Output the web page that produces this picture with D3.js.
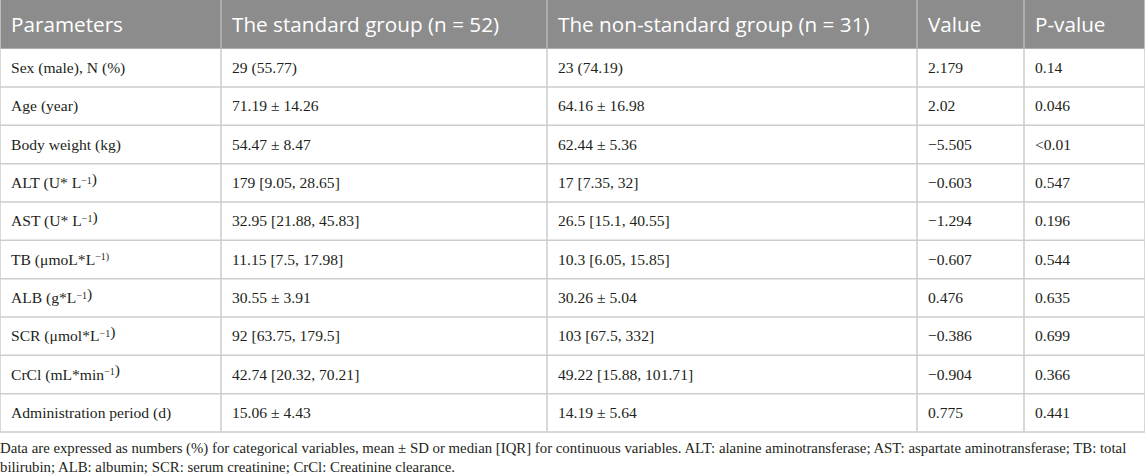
<!DOCTYPE html>
<html>
<head>
<meta charset="utf-8">
<script src="https://cdn.jsdelivr.net/npm/d3@7"></script>
<style>
  body { margin: 0; background: #fff; }
  svg { display: block; }
</style>
</head>
<body>
<div class="table-block"></div>
<script>
// table content
const headers = ['Parameters', 'The standard group (n = 52)', 'The non-standard group (n = 31)', 'Value', 'P-value'];

// ^{...} marks superscript
const parameters = [
    'Sex (male), N (%)',
    'Age (year)',
    'Body weight (kg)',
    'ALT (U* L^{−1})',
    'AST (U* L^{−1})',
    'TB (μmoL*L^{−1)}',
    'ALB (g*L^{−1})',
    'SCR (μmol*L^{−1})',
    'CrCl (mL*min^{−1})',
    'Administration period (d)'
];
const standardGroup = [
    '29 (55.77)', '71.19 ± 14.26', '54.47 ± 8.47', '179 [9.05, 28.65]', '32.95 [21.88, 45.83]',
    '11.15 [7.5, 17.98]', '30.55 ± 3.91', '92 [63.75, 179.5]', '42.74 [20.32, 70.21]', '15.06 ± 4.43'
];
const nonStandardGroup = [
    '23 (74.19)', '64.16 ± 16.98', '62.44 ± 5.36', '17 [7.35, 32]', '26.5 [15.1, 40.55]',
    '10.3 [6.05, 15.85]', '30.26 ± 5.04', '103 [67.5, 332]', '49.22 [15.88, 101.71]', '14.19 ± 5.64'
];
const statValues = ['2.179', '2.02', '−5.505', '−0.603', '−1.294', '−0.607', '0.476', '−0.386', '−0.904', '0.775'];
const pValues = ['0.14', '0.046', '<0.01', '0.547', '0.196', '0.544', '0.635', '0.699', '0.366', '0.441'];

const footnote = [
    'Data are expressed as numbers (%) for categorical variables, mean ± SD or median [IQR] for continuous variables. ALT: alanine aminotransferase; AST: aspartate aminotransferase; TB: total',
    'bilirubin; ALB: albumin; SCR: serum creatinine; CrCl: Creatinine clearance.'
];

let width = 1145, height = 476;
let headerHeight = 48.7, tableBottom = 432;
let colEdges = [0, 221, 547, 917, 1024, 1145];

let svg = d3.select('.table-block')
    .append('svg')
    .attr('width', width)
    .attr('height', height);

let rows = parameters.map((p, i) => [p, standardGroup[i], nonStandardGroup[i], statValues[i], pValues[i]]);

let y = d3.scaleBand()
    .domain(d3.range(rows.length))
    .range([headerHeight, tableBottom]);

let x = d3.scaleOrdinal()
    .domain(d3.range(headers.length))
    .range(colEdges.slice(0, -1));

// header
svg.append('rect')
    .attr('x', 0).attr('y', 0)
    .attr('width', width).attr('height', headerHeight)
    .attr('fill', '#8c8c8c');

svg.append('g')
    .selectAll('text')
    .data(headers)
    .enter()
    .append('text')
    .attr('x', (d, i) => x(i) + 11)
    .attr('y', headerHeight / 2)
    .attr('dy', '0.35em')
    .style('font-family', 'Open Sans')
    .style('font-size', '20.7px')
    .attr('fill', '#fff')
    .text(d => d);

// grid lines
svg.append('g')
    .selectAll('line')
    .data(d3.range(rows.length))
    .enter()
    .append('line')
    .attr('x1', 0).attr('x2', width)
    .attr('y1', d => y(d) + y.bandwidth())
    .attr('y2', d => y(d) + y.bandwidth())
    .attr('stroke', '#cdcdcd')
    .attr('stroke-width', 1.5);

svg.append('g')
    .selectAll('line')
    .data(colEdges)
    .enter()
    .append('line')
    .attr('x1', d => d).attr('x2', d => d)
    .attr('y1', 0).attr('y2', tableBottom)
    .attr('stroke', '#cdcdcd')
    .attr('stroke-width', 1.5);

// header separators slightly lighter
svg.append('g')
    .selectAll('line')
    .data(colEdges.slice(1, -1))
    .enter()
    .append('line')
    .attr('x1', d => d).attr('x2', d => d)
    .attr('y1', 0).attr('y2', headerHeight)
    .attr('stroke', '#a9a9a9')
    .attr('stroke-width', 1.5);

// body cells
let addRich = (sel, str) => {
    let parts = str.split(/(\^\{[^}]*\})/).filter(s => s.length);
    parts.forEach(part => {
        if (part.startsWith('^{')) {
            sel.append('tspan')
                .attr('dy', '-0.45em')
                .style('font-size', '10px')
                .text(part.slice(2, -1));
            sel.append('tspan').attr('dy', '0.45em').text('');
        } else {
            sel.append('tspan').text(part);
        }
    });
};

let rowGroups = svg.append('g')
    .selectAll('g')
    .data(rows)
    .enter()
    .append('g')
    .attr('transform', (d, i) => 'translate(0,' + (y(i) + y.bandwidth() / 2) + ')');

rowGroups.selectAll('text')
    .data(d => d)
    .enter()
    .append('text')
    .attr('x', (d, i) => x(i) + 11)
    .attr('y', 0)
    .attr('dy', '0.33em')
    .style('font-family', 'Liberation Serif')
    .style('font-size', '15.6px')
    .attr('fill', '#231f20')
    .each(function(d) { addRich(d3.select(this), d); });

// footnote
svg.append('g')
    .selectAll('text')
    .data(footnote)
    .enter()
    .append('text')
    .attr('x', 0)
    .attr('y', (d, i) => 448 + i * 19)
    .attr('dy', '0.33em')
    .style('font-family', 'Liberation Serif')
    .style('font-size', '14.8px')
    .attr('fill', '#231f20')
    .text(d => d);
</script>
</body>
</html>
